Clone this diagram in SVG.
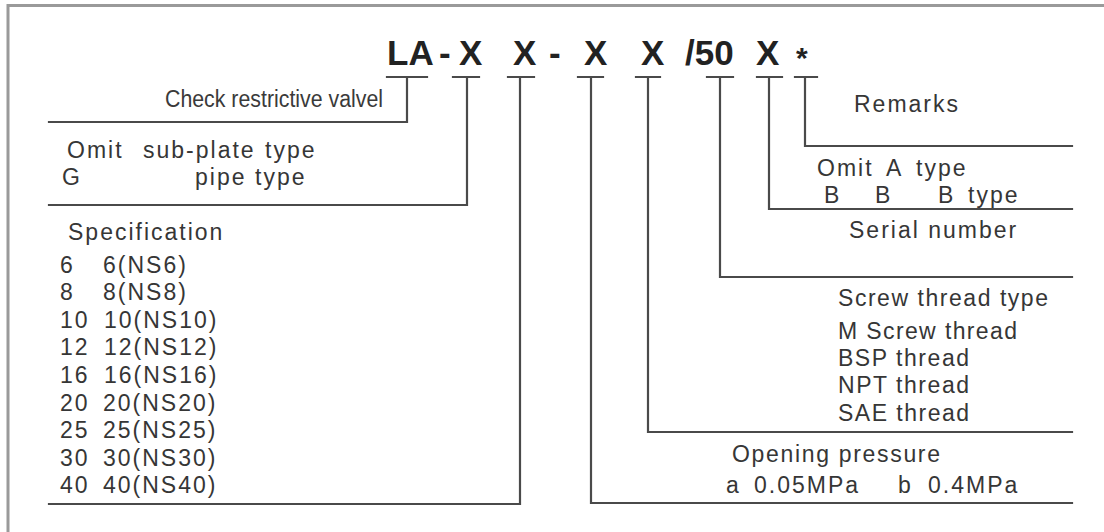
<svg xmlns="http://www.w3.org/2000/svg" width="1104" height="532" viewBox="0 0 1104 532">
<style>
.bg{fill:#ffffff}
.frame{fill:none;stroke:#9a9a9a;stroke-width:3}
.ln{fill:none;stroke:#4a4a4a;stroke-width:2.2;stroke-linecap:square}
.t{font-family:"Liberation Sans",Arial,sans-serif;font-size:23px;letter-spacing:2px;fill:#363636}
.tn{font-family:"Liberation Sans Narrow","Liberation Sans",Arial,sans-serif;font-size:23px;fill:#3a3a3a}
.code{font-family:"Liberation Sans",Arial,sans-serif;font-size:35px;font-weight:bold;fill:#222222}
</style>
<rect class="bg" x="0" y="0" width="1104" height="532"/>
<rect class="frame" x="8" y="5.5" width="1200" height="600"/>

<g id="title">
<text class="code" y="65"><tspan x="387">LA</tspan><tspan x="439">-</tspan><tspan x="459">X</tspan><tspan x="513">X</tspan><tspan x="549">-</tspan><tspan x="584">X</tspan><tspan x="641">X</tspan><tspan x="685">/50</tspan><tspan x="756">X</tspan></text>
<text class="code" x="796" y="68" style="font-size:30px">*</text>
</g>

<g id="connectors">
<path class="ln" d="M387,77 H427 M407,77 V122 H49"/>
<path class="ln" d="M453,77 H479 M467,77 V205 H49"/>
<path class="ln" d="M508,77 H534 M520,77 V504 H49"/>
<path class="ln" d="M578,77 H603 M591,77 V503 H1072"/>
<path class="ln" d="M636,77 H660 M648,77 V432 H1072"/>
<path class="ln" d="M707,77 H733 M720,77 V277 H1072"/>
<path class="ln" d="M757,77 H782 M769,77 V209 H1072"/>
<path class="ln" d="M795,77 H817 M805,77 V146 H1072"/>
</g>

<g id="node-valve">
<text class="tn" x="165" y="107" textLength="218" lengthAdjust="spacingAndGlyphs">Check restrictive valvel</text>
</g>

<g id="node-mounting">
<text class="t" y="158"><tspan x="67">Omit</tspan><tspan x="143">sub-plate</tspan><tspan x="265">type</tspan></text>
<text class="t" y="185"><tspan x="62">G</tspan><tspan x="195">pipe</tspan><tspan x="255">type</tspan></text>
</g>

<g id="node-spec">
<text class="t" x="68" y="240">Specification</text>
<text class="t" y="273"><tspan x="60">6</tspan><tspan x="103">6(NS6)</tspan></text>
<text class="t" y="300"><tspan x="60">8</tspan><tspan x="103">8(NS8)</tspan></text>
<text class="t" y="328"><tspan x="60">10</tspan><tspan x="104">10(NS10)</tspan></text>
<text class="t" y="355"><tspan x="60">12</tspan><tspan x="104">12(NS12)</tspan></text>
<text class="t" y="383"><tspan x="60">16</tspan><tspan x="104">16(NS16)</tspan></text>
<text class="t" y="411"><tspan x="60">20</tspan><tspan x="103">20(NS20)</tspan></text>
<text class="t" y="438"><tspan x="60">25</tspan><tspan x="103">25(NS25)</tspan></text>
<text class="t" y="466"><tspan x="60">30</tspan><tspan x="103">30(NS30)</tspan></text>
<text class="t" y="493"><tspan x="60">40</tspan><tspan x="103">40(NS40)</tspan></text>
</g>

<g id="node-remarks">
<text class="t" x="854" y="112">Remarks</text>
</g>

<g id="node-type">
<text class="t" y="176"><tspan x="817">Omit</tspan><tspan x="886">A</tspan><tspan x="916">type</tspan></text>
<text class="t" y="203"><tspan x="824">B</tspan><tspan x="875">B</tspan><tspan x="938">B</tspan><tspan x="968">type</tspan></text>
</g>

<g id="node-serial">
<text class="t" x="849" y="238">Serial number</text>
</g>

<g id="node-thread">
<text class="t" x="838" y="306" textLength="212">Screw thread type</text>
<text class="t" x="838" y="339" textLength="181">M Screw thread</text>
<text class="t" x="838" y="366" textLength="133">BSP thread</text>
<text class="t" x="838" y="393" textLength="133">NPT thread</text>
<text class="t" x="838" y="421" textLength="133">SAE thread</text>
</g>

<g id="node-pressure">
<text class="t" x="732" y="462" textLength="210">Opening pressure</text>
<text class="t" y="493"><tspan x="726">a</tspan><tspan x="754">0.05MPa</tspan><tspan x="898">b</tspan><tspan x="928">0.4MPa</tspan></text>
</g>
</svg>
